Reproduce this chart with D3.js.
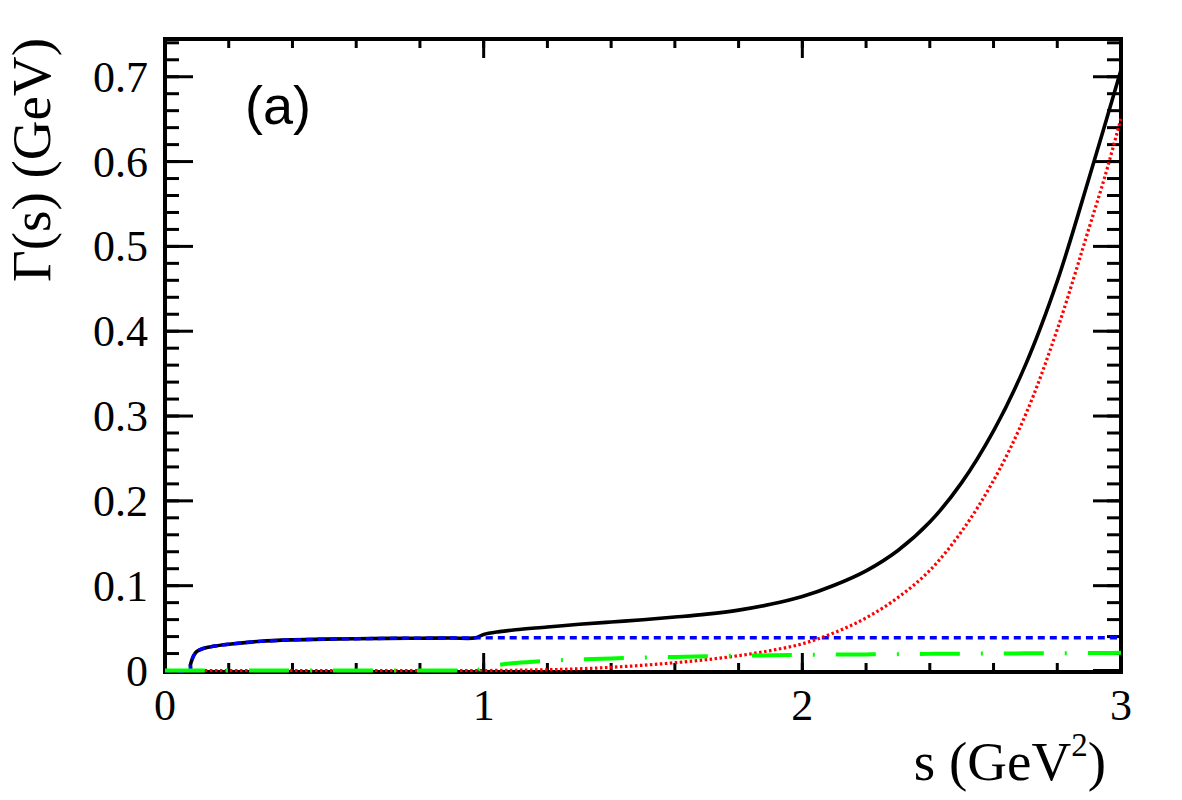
<!DOCTYPE html>
<html lang="en">
<head>
    <meta charset="UTF-8">
    <title>Gamma(s)</title>
    <script src="https://d3js.org/d3.v7.min.js"></script>
    <style>
        body { margin: 0; background: white; }
        svg { display: block; }
    </style>
</head>
<body>
    <svg id="chart" width="1182" height="800"></svg>
    <script>
        // s grid (GeV^2) shared by all curves
        const sValues = [0, 0.0779, 0.08, 0.085, 0.09, 0.1, 0.12, 0.15, 0.2, 0.3, 0.4, 0.5, 0.6, 0.7, 0.8, 0.9,
            0.975, 1.0, 1.05, 1.1, 1.2, 1.3, 1.4, 1.5, 1.6, 1.7, 1.8, 1.9, 2.0, 2.1, 2.2, 2.3, 2.4, 2.5, 2.6,
            2.7, 2.8, 2.9, 2.95, 3.0];

        // total width (black, solid)
        const totalWidth = [0, 0, 0.007, 0.013, 0.0175, 0.0225, 0.026, 0.0285, 0.031, 0.0344, 0.0361, 0.037, 0.0375, 0.0379, 0.0381, 0.0383,
            0.0385, 0.0425, 0.0458, 0.048, 0.0512, 0.0545, 0.0572, 0.0598, 0.063, 0.0665, 0.0712, 0.078, 0.0872, 0.1005, 0.1175, 0.1415, 0.175, 0.2215, 0.2825,
            0.36, 0.459, 0.581, 0.644, 0.708];

        // blue, dashed
        const pipiWidth = [0, 0, 0.007, 0.013, 0.0175, 0.0225, 0.026, 0.0285, 0.031, 0.0344, 0.0361, 0.037, 0.0375, 0.0379, 0.0381, 0.0383,
            0.0385, 0.0385, 0.0386, 0.0386, 0.0386, 0.0386, 0.0386, 0.0386, 0.0386, 0.0386, 0.0386, 0.0386, 0.0386, 0.0386, 0.0386, 0.0386, 0.0386, 0.0386, 0.0386,
            0.0386, 0.0386, 0.0386, 0.0386, 0.0386];

        // red, dotted
        const fourPiWidth = [0, 0, 0, 0, 0, 0, 0, 0, 0, 0, 0, 0, 0, 0, 0, 0,
            0, 0, 0.0001, 0.0003, 0.0009, 0.002, 0.0038, 0.0062, 0.0092, 0.0128, 0.0175, 0.0235, 0.0315, 0.0445, 0.062, 0.086, 0.118, 0.164, 0.224,
            0.301, 0.402, 0.522, 0.583, 0.651];

        // green, dash-dot
        const kkWidth = [0, 0, 0, 0, 0, 0, 0, 0, 0, 0, 0, 0, 0, 0, 0, 0,
            0, 0.004, 0.0068, 0.0088, 0.0114, 0.013, 0.0142, 0.0152, 0.016, 0.0168, 0.0174, 0.0179, 0.0183, 0.0187, 0.019, 0.0193, 0.0196, 0.0198, 0.02,
            0.0202, 0.0204, 0.0206, 0.0207, 0.0208];

        const xTickLabels = ['0', '1', '2', '3'];
        const yTickLabels = ['0', '0.1', '0.2', '0.3', '0.4', '0.5', '0.6', '0.7'];

        const svg = d3.select('#chart');
        const frameLeft = 165, frameRight = 1121, frameTop = 39, frameBottom = 672;

        const x = d3.scaleLinear().domain([0, 3]).range([frameLeft, frameRight]);
        const y = d3.scaleLinear().domain([0, 0.7445]).range([670.5, frameTop]);

        svg.append('rect').attr('width', 1182).attr('height', 800).attr('fill', 'white');

        // ticks
        const xMajor = xTickLabels.map(Number);
        const xMinor = d3.range(0, 31, 2).map(d => d / 10);
        const yMajor = yTickLabels.map(Number);
        const yMinor = d3.range(0, 75, 2).map(d => d / 100);

        const ticks = svg.append('g').attr('stroke', 'black').attr('stroke-width', 3);

        function vTicks(vals, len) {
            vals.forEach(v => {
                ticks.append('line').attr('x1', x(v)).attr('x2', x(v)).attr('y1', frameBottom).attr('y2', frameBottom - len);
                ticks.append('line').attr('x1', x(v)).attr('x2', x(v)).attr('y1', frameTop).attr('y2', frameTop + len);
            });
        }
        function hTicks(vals, len) {
            vals.forEach(v => {
                ticks.append('line').attr('y1', y(v)).attr('y2', y(v)).attr('x1', frameLeft).attr('x2', frameLeft + len);
                ticks.append('line').attr('y1', y(v)).attr('y2', y(v)).attr('x1', frameRight).attr('x2', frameRight - len);
            });
        }
        vTicks(xMinor, 9);
        vTicks(xMajor, 19);
        hTicks(yMinor, 14);
        hTicks(yMajor, 28);

        // frame
        svg.append('rect')
            .attr('x', frameLeft).attr('y', frameTop)
            .attr('width', frameRight - frameLeft).attr('height', frameBottom - frameTop)
            .attr('fill', 'none').attr('stroke', 'black').attr('stroke-width', 4);

        // curves
        const series = [
            { values: totalWidth, color: '#000000', width: 3.6, dash: null },
            { values: pipiWidth, color: '#0000ff', width: 3.4, dash: '7,5' },
            { values: fourPiWidth, color: '#ff0000', width: 3.2, dash: '2.5,2.5' },
            { values: kkWidth, color: '#00ff00', width: 4, dash: '40,21,2,21' }
        ];

        const line = d3.line()
            .x(d => x(d[0]))
            .y(d => y(d[1]))
            .curve(d3.curveCatmullRom.alpha(0.5));

        series.forEach(s => {
            const pts = sValues.map((v, i) => [v, s.values[i]]);
            svg.append('path')
                .datum(pts)
                .attr('d', line)
                .attr('fill', 'none')
                .attr('stroke', s.color)
                .attr('stroke-width', s.width)
                .attr('stroke-dasharray', s.dash);
        });

        // tick labels
        const serif = '"Liberation Serif", "Times New Roman", serif';
        svg.append('g').selectAll('text')
            .data(xTickLabels)
            .join('text')
            .attr('x', d => x(+d))
            .attr('y', 720)
            .attr('text-anchor', 'middle')
            .attr('font-family', serif)
            .attr('font-size', 44)
            .text(d => d);

        svg.append('g').selectAll('text')
            .data(yTickLabels)
            .join('text')
            .attr('x', 148)
            .attr('y', d => y(+d) + 15)
            .attr('text-anchor', 'end')
            .attr('font-family', serif)
            .attr('font-size', 44)
            .text(d => d);

        // axis titles
        const xt = svg.append('text')
            .attr('x', 1106).attr('y', 780)
            .attr('text-anchor', 'end')
            .attr('font-family', serif)
            .attr('font-size', 55);
        xt.append('tspan').text('s (GeV');
        xt.append('tspan').attr('font-size', 33).attr('dy', -24).text('2');
        xt.append('tspan').attr('dy', 24).text(')');

        svg.append('text')
            .attr('transform', 'translate(50,38) rotate(-90)')
            .attr('text-anchor', 'end')
            .attr('font-family', serif)
            .attr('font-size', 55)
            .text('Γ(s) (GeV)');

        svg.append('text')
            .attr('x', 245).attr('y', 124)
            .attr('font-family', '"Liberation Sans", Arial, sans-serif')
            .attr('font-size', 54)
            .text('(a)');
    </script>
</body>
</html>
